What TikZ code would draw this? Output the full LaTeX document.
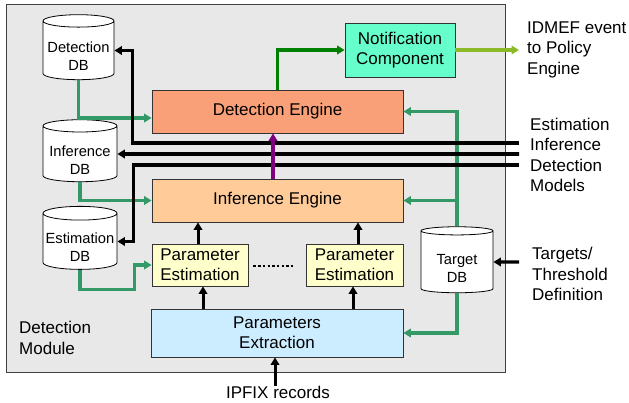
\documentclass[tikz,border=0pt]{standalone}
\usepackage{fontspec}
\setmainfont{Liberation Sans}
\usetikzlibrary{arrows.meta,shapes.geometric,calc}
\definecolor{modbg}{RGB}{232,232,232}
\definecolor{defill}{RGB}{250,160,120}
\definecolor{iefill}{RGB}{255,204,153}
\definecolor{ncfill}{RGB}{102,255,204}
\definecolor{pefill}{RGB}{255,255,204}
\definecolor{pxfill}{RGB}{204,236,255}
\definecolor{tgreen}{RGB}{51,153,102}
\definecolor{dgreen}{RGB}{0,128,0}
\definecolor{lgreen}{RGB}{140,185,40}
\definecolor{purp}{RGB}{128,0,128}
\newcommand{\dbtop}{\rule{0pt}{23pt}}
\begin{document}
\begin{tikzpicture}[x=1pt,y=-1pt,
  box/.style={draw=black!80, line width=0.8pt, align=center, inner sep=0pt,
    font=\fontsize{17}{20}\selectfont},
  dbnode/.style={cylinder, shape border rotate=90, shape aspect=0.2, draw=black,
    fill=white, line width=0.8pt, align=center, inner sep=0pt,
    font=\fontsize{14.7}{18}\selectfont},
  lbl/.style={align=left, inner sep=0pt, anchor=west, font=\fontsize{17}{20.5}\selectfont},
  tip/.style={-{Triangle[length=7.5pt,width=8.5pt]}},
  garrow/.style={tip, draw=tgreen, line width=3.4pt},
  marrow/.style={tip, draw=black, line width=3.8pt},
  barrow/.style={tip, draw=black, line width=3pt}]
\useasboundingbox (0,0) rectangle (629,403);
% module
\node[draw=black!75, line width=1pt, fill=modbg, minimum width=499pt, minimum height=367pt,
  inner sep=0pt] (mod) at (255.5,188.5) {};
\node[lbl] (modlbl) at (19,338) {Detection\\Module};
% databases
\node[dbnode, minimum width=71pt, minimum height=65pt] (ddb) at (78.5,50.5) {\dbtop Detection\\DB};
\node[dbnode, minimum width=74pt, minimum height=62pt] (idb) at (80,154) {\dbtop Inference\\DB};
\node[dbnode, minimum width=74pt, minimum height=63pt] (edb) at (80,241.5) {\dbtop Estimation\\DB};
\node[dbnode, minimum width=72pt, minimum height=66pt] (tdb) at (457,262) {\dbtop Target\\DB};
% boxes
\node[box, fill=defill, minimum width=251pt, minimum height=43pt] (de) at (277.5,111.5) {Detection Engine};
\node[box, fill=iefill, minimum width=251pt, minimum height=43pt] (ie) at (277.5,200.5) {Inference Engine};
\node[box, fill=ncfill, minimum width=110pt, minimum height=54pt] (nc) at (400,50) {Notification\\Component};
\node[box, fill=pefill, minimum width=96pt, minimum height=42pt] (pe1) at (200,265) {Parameter\\Estimation};
\node[box, fill=pefill, minimum width=97pt, minimum height=42pt] (pe2) at (354.5,265) {Parameter\\Estimation};
\node[box, fill=pxfill, minimum width=252pt, minimum height=48pt] (px) at (277,333) {Parameters\\Extraction};
\draw[line width=2.4pt, dash pattern=on 2.4pt off 2.3pt] ([xshift=5pt,yshift=-1pt]pe1.east) -- ([xshift=-10pt,yshift=-1pt]pe2.west);
% external labels
\node[lbl] (idmeflbl) at (527,49.5) {IDMEF event\\to Policy\\Engine};
\node[lbl] (modelslbl) at (530,155) {Estimation\\Inference\\Detection\\Models};
\node[lbl] (tgtlbl) at (532,274) {Targets/\\Threshold\\Definition};
\node[inner sep=0pt, font=\fontsize{17}{20}\selectfont] (ipfix) at (278,392) {IPFIX records};
\coordinate (idmef) at (519,50);
\coordinate (m1) at (519,143);
\coordinate (m2) at (519,154);
\coordinate (m3) at (519,165);
\coordinate (tgt) at (519,262);
% green arrows
\draw[garrow] (ddb.south) |- ([yshift=-6.5pt]de.west);
\draw[garrow] (idb.south) |- (ie.west);
\draw[garrow] (edb.south) -- ++(0,20) -| ([xshift=-17pt]pe1.west) -- (pe1.west);
\draw[garrow] (tdb.north) |- (de.east);
\draw[garrow] (tdb.north |- ie.east) -- (ie.east);
\draw[garrow] (tdb.south) |- (px.east);
\draw[tip, draw=dgreen, line width=3.4pt] (de.north) |- (nc.west);
\draw[tip, draw=lgreen, line width=3.4pt] (nc.east) -- (idmef);
% model lines
\draw[marrow] (m1) -| ([xshift=18pt]ddb.east) -- (ddb.east);
\draw[marrow] (m2) -- (idb.east);
\draw[marrow] (m3) -| ([xshift=16pt]edb.east) -- (edb.east);
\draw[tip, draw=purp, line width=3.4pt] ([xshift=-4.5pt]ie.north) -- ([xshift=-4.5pt]de.south);
% black arrows
\draw[barrow] ([xshift=-2pt]pe1.north) -- ([xshift=-2pt]pe1.north |- ie.south);
\draw[barrow] ([xshift=3.5pt]pe2.north) -- ([xshift=3.5pt]pe2.north |- ie.south);
\draw[barrow] ([xshift=3pt]pe1.south |- px.north) -- ([xshift=3pt]pe1.south);
\draw[barrow] ([xshift=-1.5pt]pe2.south |- px.north) -- ([xshift=-1.5pt]pe2.south);
\draw[barrow] ([xshift=-3pt]ipfix.north) -- ([xshift=-3pt]ipfix.north |- px.south);
\draw[marrow, line width=3.4pt] (tgt) -- (tdb.east);
\end{tikzpicture}
\end{document}
